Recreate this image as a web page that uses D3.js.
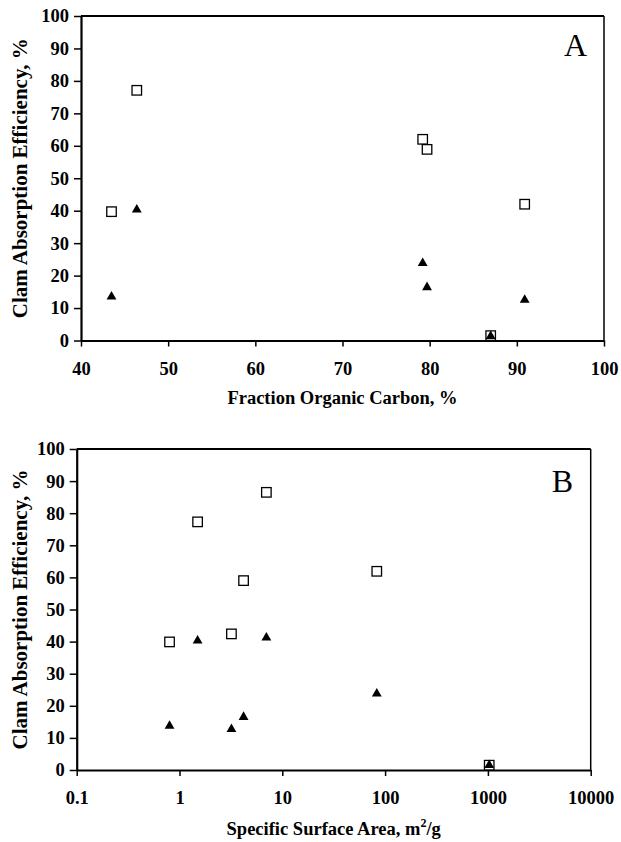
<!DOCTYPE html>
<html><head><meta charset="utf-8">
<script src="https://cdn.jsdelivr.net/npm/d3@7"></script>
<style>
html,body{margin:0;padding:0;background:#fff;}
svg{display:block;}
text{font-family:"Liberation Serif","Times New Roman",serif;}
</style></head>
<body>
<svg id="c" width="621" height="842"></svg>
<script>
// Panel A data: fraction organic carbon (%) vs absorption efficiency (%)
const ocFraction   = [46.4, 43.5, 79.2, 79.7, 90.9, 87.0];
const ocOpen       = [77.1, 39.7, 62.0, 58.9, 42.0, 1.5];
const ocFilled     = [40.3, 13.5, 23.8, 16.4, 12.5, 1.3];
// Panel B data: specific surface area (m2/g) vs absorption efficiency (%)
const ssaValues    = [1.5, 0.8, 83, 4.2, 3.2, 1030, 7.0];
const ssaOpen      = [77.3, 39.9, 61.9, 59.0, 42.4, 1.5, 86.5];
const ssaFilled    = [40.3, 13.7, 23.8, 16.5, 12.7, 1.5, 41.2];
// Tick labels
const yTicks  = [0,10,20,30,40,50,60,70,80,90,100];
const xTicksA = [40,50,60,70,80,90,100];
const xTicksB = [0.1,1,10,100,1000,10000];
const yTitle  = "Clam Absorption Efficiency, %";
const xTitleA = "Fraction Organic Carbon, %";

const svg = d3.select("#c");
svg.append("rect").attr("width",621).attr("height",842).attr("fill","#fff");

function panel(opts){
  const {left,right,top,bottom,x,xTicks,xFmt,xs,open,filled,letter,letterPos,titleY,xTitle} = opts;
  const y = d3.scaleLinear().domain([0,100]).range([bottom,top]);
  const g = svg.append("g");
  // frame top & right
  g.append("line").attr("x1",left).attr("x2",right).attr("y1",top).attr("y2",top)
    .attr("stroke","#000").attr("stroke-width",2);
  g.append("line").attr("x1",right).attr("x2",right).attr("y1",top).attr("y2",bottom)
    .attr("stroke","#000").attr("stroke-width",1.5);
  // y axis
  const ya = g.append("g").attr("transform",`translate(${left},0)`)
    .call(d3.axisLeft(y).tickValues(yTicks).tickSize(7).tickSizeOuter(0).tickPadding(5));
  ya.select(".domain").attr("stroke-width",2.2);
  ya.selectAll(".tick line").attr("stroke-width",1.5);
  ya.selectAll(".tick text").attr("font-size",18.5).attr("font-weight","bold")
    .attr("font-family","Liberation Serif, serif").attr("fill","#000");
  // x axis
  const xa = g.append("g").attr("transform",`translate(0,${bottom})`)
    .call(d3.axisBottom(x).tickValues(xTicks).tickFormat(xFmt).tickSize(6).tickSizeOuter(0).tickPadding(15));
  xa.select(".domain").attr("stroke-width",2.2);
  xa.selectAll(".tick line").attr("stroke-width",1.5);
  xa.selectAll(".tick text").attr("font-size",18.5).attr("font-weight","bold")
    .attr("font-family","Liberation Serif, serif").attr("fill","#000");
  // markers
  const sq = 9.5;
  g.selectAll("rect.o").data(xs).enter().append("rect").attr("class","o")
    .attr("x",(d)=>x(d)-sq/2).attr("y",(d,i)=>y(open[i])-sq/2)
    .attr("width",sq).attr("height",sq)
    .attr("fill","#fff").attr("stroke","#000").attr("stroke-width",1.3);
  const tri = d3.symbol().type(d3.symbolTriangle).size(42);
  g.selectAll("path.t").data(xs).enter().append("path").attr("class","t")
    .attr("d",tri).attr("transform",(d,i)=>`translate(${x(d)},${y(filled[i])})`)
    .attr("fill","#000");
  // panel letter
  g.append("text").attr("x",letterPos[0]).attr("y",letterPos[1]).attr("text-anchor","middle")
    .attr("font-size",32).text(letter);
  // y title
  g.append("text").attr("transform",`translate(27,${(top+bottom)/2}) rotate(-90)`)
    .attr("text-anchor","middle").attr("font-size",21).attr("font-weight","bold").text(yTitle);
  // x title
  const xt = g.append("text").attr("x",(left+right)/2).attr("y",titleY).attr("text-anchor","middle")
    .attr("font-size",18.5).attr("font-weight","bold");
  xTitle(xt);
}

panel({
  left:81, right:604, top:16, bottom:340.5,
  x: d3.scaleLinear().domain([40,100]).range([81,604]),
  xTicks: xTicksA, xFmt: d3.format("d"),
  xs: ocFraction, open: ocOpen, filled: ocFilled,
  letter:"A", letterPos:[575.5,56], titleY:404,
  xTitle: t=>t.text(xTitleA)
});

panel({
  left:76.7, right:590.7, top:449, bottom:770,
  x: d3.scaleLog().domain([0.1,10000]).range([76.7,590.7]),
  xTicks: xTicksB, xFmt: d=>String(d),
  xs: ssaValues, open: ssaOpen, filled: ssaFilled,
  letter:"B", letterPos:[562.5,492], titleY:835,
  xTitle: t=>{
    t.append("tspan").text("Specific Surface Area, m");
    t.append("tspan").attr("font-size",12).attr("dy",-8).text("2");
    t.append("tspan").attr("dy",8).text("/g");
  }
});
</script>
</body></html>
